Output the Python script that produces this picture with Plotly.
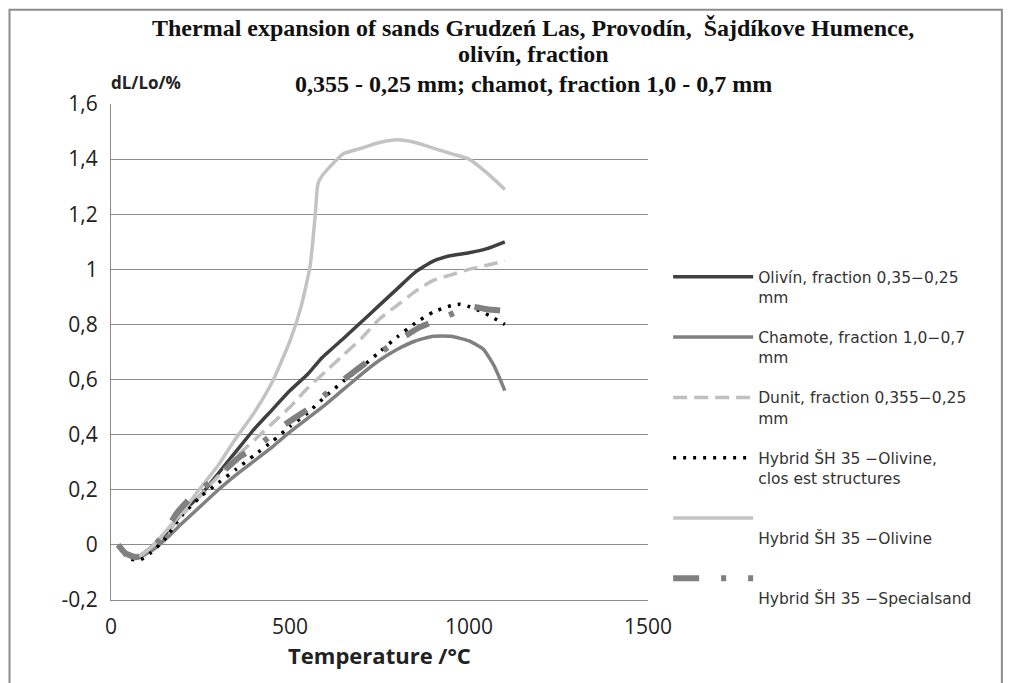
import plotly.graph_objects as go

# ---------------- data ----------------
olivin_T = [20, 50, 80, 120, 160, 200, 250, 300, 350, 400, 450, 500, 550, 590, 650, 700, 750, 800, 850, 900, 950, 1000, 1050, 1100]
olivin_v = [0.0, -0.04, -0.04, 0.0, 0.05, 0.12, 0.18, 0.26, 0.34, 0.42, 0.49, 0.56, 0.62, 0.68, 0.75, 0.81, 0.87, 0.93, 0.99, 1.03, 1.05, 1.06, 1.075, 1.10]

chamote_T = [20, 50, 80, 120, 160, 200, 250, 300, 350, 400, 450, 500, 550, 600, 650, 700, 750, 800, 850, 900, 950, 1000, 1040, 1070, 1100]
chamote_v = [0.0, -0.04, -0.045, -0.015, 0.03, 0.08, 0.14, 0.20, 0.255, 0.305, 0.355, 0.41, 0.46, 0.51, 0.565, 0.62, 0.67, 0.71, 0.74, 0.757, 0.757, 0.74, 0.71, 0.65, 0.56]

dunit_T = [20, 50, 80, 120, 160, 200, 250, 300, 350, 400, 450, 500, 550, 600, 650, 700, 750, 800, 850, 900, 950, 1000, 1050, 1100]
dunit_v = [0.0, -0.04, -0.04, 0.0, 0.05, 0.11, 0.18, 0.25, 0.32, 0.38, 0.44, 0.50, 0.57, 0.63, 0.69, 0.75, 0.82, 0.87, 0.92, 0.96, 0.98, 1.00, 1.015, 1.03]

closest_T = [20, 50, 80, 110, 150, 200, 250, 300, 350, 400, 450, 500, 550, 600, 650, 700, 750, 800, 850, 900, 950, 975, 1000, 1030, 1060, 1100]
closest_v = [0.0, -0.05, -0.055, -0.03, 0.02, 0.11, 0.175, 0.225, 0.275, 0.325, 0.375, 0.43, 0.48, 0.54, 0.595, 0.645, 0.70, 0.755, 0.805, 0.845, 0.868, 0.873, 0.865, 0.85, 0.83, 0.80]

hyb_olivine_T = [20, 50, 80, 120, 160, 200, 240, 300, 340, 400, 450, 500, 530, 556, 570, 578, 590, 603, 650, 700, 750, 800, 850, 900, 950, 1000, 1050, 1100]
hyb_olivine_v = [0.0, -0.04, -0.04, 0.0, 0.06, 0.12, 0.19, 0.29, 0.37, 0.48, 0.59, 0.74, 0.86, 1.01, 1.19, 1.31, 1.34, 1.36, 1.42, 1.44, 1.46, 1.47, 1.46, 1.44, 1.42, 1.40, 1.35, 1.29]

special_T = [20, 40, 70, 100, 137, 184, 226, 300, 360, 411, 478, 547, 584, 650, 732, 788, 863, 938, 1003, 1050, 1090]
special_v = [0.0, -0.03, -0.045, -0.03, 0.02, 0.115, 0.175, 0.25, 0.32, 0.36, 0.43, 0.49, 0.53, 0.60, 0.68, 0.73, 0.79, 0.83, 0.865, 0.855, 0.85]

x_ticks = [0, 500, 1000, 1500]
x_ticktext = ["0", "500", "1000", "1500"]
y_ticks = [-0.2, 0, 0.2, 0.4, 0.6, 0.8, 1.0, 1.2, 1.4, 1.6]
y_ticktext = ["-0,2", "0", "0,2", "0,4", "0,6", "0,8", "1", "1,2", "1,4", "1,6"]

names = [
    "Olivín, fraction 0,35−0,25<br>mm",
    "Chamote, fraction 1,0−0,7<br>mm",
    "Dunit, fraction 0,355−0,25<br>mm",
    "Hybrid ŠH 35 −Olivine,<br>clos est structures",
    "<br>Hybrid ŠH 35 −Olivine",
    "<br>Hybrid ŠH 35 −Specialsand",
]

title_lines = [
    "Thermal expansion of sands Grudzeń Las, Provodín, \u00a0Šajdíkove Humence,",
    "olivín, fraction",
    "0,355 - 0,25 mm; chamot, fraction 1,0 - 0,7 mm",
]

# ---------------- figure ----------------
fig = go.Figure()
series = [
    (olivin_T, olivin_v, dict(color="#404040", width=3.5)),
    (chamote_T, chamote_v, dict(color="#808080", width=3.5)),
    (dunit_T, dunit_v, dict(color="#bfbfbf", width=3.5, dash="14px,7px")),
    (closest_T, closest_v, dict(color="#000000", width=3.5, dash="3px,7px")),
    (hyb_olivine_T, hyb_olivine_v, dict(color="#c3c3c3", width=3.5)),
    (special_T, special_v, dict(color="#808080", width=6, dash="26px,22px,5px,22px")),
]
for i, (xs, ys, ln) in enumerate(series):
    fig.add_trace(go.Scatter(
        x=xs, y=ys, mode="lines", name=names[i], line=dict(shape="spline", smoothing=0.5, **ln),
        legendgroup=f"g{i}",
    ))

fig.update_layout(
    width=1011, height=683,
    margin=dict(l=103, r=371, t=96, b=91),
    paper_bgcolor="white", plot_bgcolor="white",
    font=dict(family="Open Sans", color="#222222"),
    showlegend=True,
    legend=dict(
        x=1.0375, y=0.685, xanchor="left", yanchor="top",
        font=dict(family="DejaVu Sans", size=15.5, color="#333333"),
        valign="top", tracegroupgap=17, itemwidth=80,
        bgcolor="rgba(0,0,0,0)",
    ),
    xaxis=dict(
        range=[0, 1500], tickvals=x_ticks, ticktext=x_ticktext,
        showgrid=False, zeroline=False, showline=True, linecolor="#8c8c8c", linewidth=1,
        ticks="", tickfont=dict(family="Open Sans", size=21, color="#222222"),
        ticklabelstandoff=8,
        title=dict(text="<b>Temperature /°C</b>", font=dict(family="Open Sans", size=22, color="#222222"), standoff=6),
    ),
    yaxis=dict(
        range=[-0.2, 1.6], tickvals=y_ticks, ticktext=y_ticktext,
        showgrid=True, gridcolor="#8c8c8c", gridwidth=1, zeroline=False,
        showline=True, linecolor="#8c8c8c", linewidth=1,
        ticks="", tickfont=dict(family="Open Sans", size=21, color="#222222"),
        ticklabelstandoff=8,
    ),
)

title_y = [1.153, 1.100, 1.040]
for txt, yy in zip(title_lines, title_y):
    fig.add_annotation(
        text=f"<b>{txt}</b>", xref="paper", yref="paper", x=0.786, y=yy,
        xanchor="center", yanchor="middle", showarrow=False,
        font=dict(family="Liberation Serif", size=24, color="#111111"),
    )

fig.add_annotation(
    text="<b>dL/Lo/%</b>", xref="paper", yref="paper", x=-0.004, y=1.043,
    xanchor="left", yanchor="middle", showarrow=False,
    font=dict(family="Open Sans", size=17, color="#222222"),
)

# outer chart frame (kept inside the figure so it is not clipped)
fig.add_shape(type="rect", xref="paper", yref="paper", x0=-0.189, x1=1.659, y0=-0.2, y1=1.190,
              line=dict(color="#8c8c8c", width=2), fillcolor="rgba(0,0,0,0)", layer="below")

fig.write_html("out.html")
